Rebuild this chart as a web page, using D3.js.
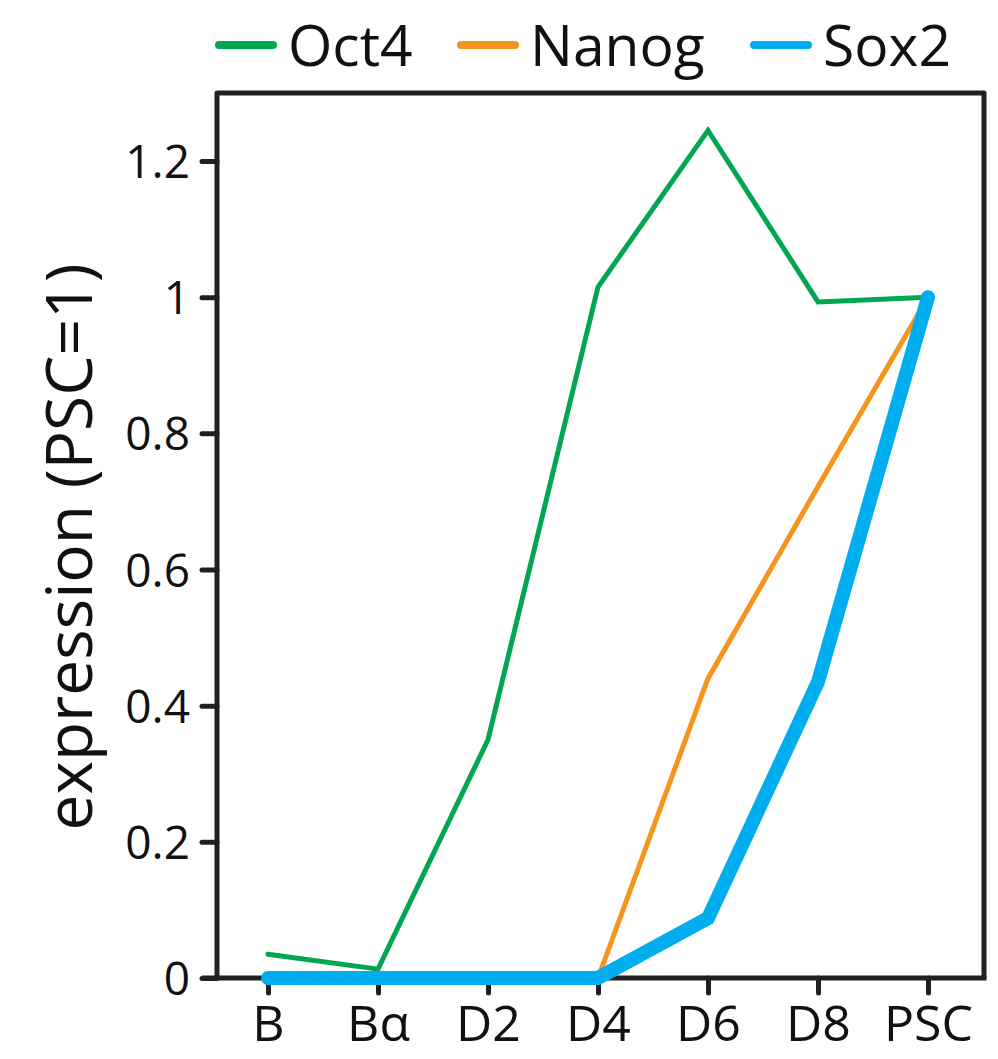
<!DOCTYPE html>
<html>
<head>
<meta charset="utf-8">
<script src="https://cdn.jsdelivr.net/npm/d3@7"></script>
<style>
  body { margin: 0; background: #fff; }
  svg { display: block; font-family: "Open Sans", sans-serif; }
</style>
</head>
<body>
<div id="chart"></div>
<script>
// data
const stages = ['B', 'Bα', 'D2', 'D4', 'D6', 'D8', 'PSC'];
const oct4  = [0.035, 0.013, 0.35, 1.015, 1.245, 0.993, 1.0];
const nanog = [0, 0, 0, 0, 0.44, 0.722, 1.0];
const sox2  = [0, 0, 0, 0, 0.088, 0.435, 1.0];
const yTicks = [0, 0.2, 0.4, 0.6, 0.8, 1, 1.2];

const series = [
  {name: 'Oct4',  values: oct4,  color: '#00a651', width: 5},
  {name: 'Nanog', values: nanog, color: '#f7941d', width: 5},
  {name: 'Sox2',  values: sox2,  color: '#00aeef', width: 14}
];

const width = 998, height = 1059;
const frame = {l: 217, r: 984, t: 93, b: 978};
const ink = '#231f20';

const svg = d3.select('#chart')
  .append('svg')
  .attr('width', width)
  .attr('height', height);

//scales
const scaleX = d3.scalePoint().domain(stages).range([268, 928]);
const scaleY = d3.scaleLinear().domain([0, 1.2]).range([frame.b, 161]);

//frame (top, left, right)
svg.append('path')
  .attr('d', `M${frame.l},${frame.b} V${frame.t} H${frame.r} V${frame.b}`)
  .attr('fill', 'none')
  .attr('stroke', ink)
  .attr('stroke-width', 5)
  .attr('stroke-linejoin', 'round');

//axes
const axisX = d3.axisBottom(scaleX).tickSize(15).tickPadding(10);
const axisY = d3.axisLeft(scaleY)
  .tickValues(yTicks)
  .tickSize(15)
  .tickPadding(12)
  .tickFormat(d => String(d));

const gx = svg.append('g')
  .attr('class', 'axis-x')
  .attr('transform', `translate(0,${frame.b})`)
  .call(axisX);
gx.select('.domain').remove();
gx.append('line')
  .attr('x1', 202).attr('x2', frame.r + 2.5)
  .attr('stroke', ink).attr('stroke-width', 5);

const gy = svg.append('g')
  .attr('class', 'axis-y')
  .attr('transform', `translate(${frame.l},0)`)
  .call(axisY);
gy.select('.domain').remove();

svg.selectAll('.tick line')
  .attr('stroke', ink)
  .attr('stroke-width', 5)
  .attr('stroke-linecap', 'round');
svg.selectAll('.tick text')
  .attr('fill', '#111')
  .style('font-family', '"Open Sans", sans-serif');
gx.selectAll('.tick text')
  .style('font-size', '50px')
  .attr('dy', '0.75em');
gy.selectAll('.tick text')
  .style('font-size', '46px')
  .attr('dy', '0.36em');

//y title
svg.append('text')
  .attr('transform', 'translate(92,547) rotate(-90)')
  .attr('text-anchor', 'middle')
  .style('font-size', '64px')
  .attr('fill', '#111')
  .text('expression (PSC=1)');

//lines
const line = d3.line()
  .x((d, i) => scaleX(stages[i]))
  .y(d => scaleY(d));

svg.selectAll('.series')
  .data(series)
  .enter()
  .append('path')
  .attr('class', 'series')
  .attr('d', d => line(d.values))
  .attr('fill', 'none')
  .attr('stroke', d => d.color)
  .attr('stroke-width', d => d.width)
  .attr('stroke-linecap', 'round')
  .attr('stroke-linejoin', 'miter');

//legend
const legendX = [215, 457, 750];
const legend = svg.selectAll('.legend')
  .data(series)
  .enter()
  .append('g')
  .attr('class', 'legend')
  .attr('transform', (d, i) => `translate(${legendX[i]},45)`);
legend.append('line')
  .attr('x1', 4).attr('x2', 58)
  .attr('stroke', d => d.color)
  .attr('stroke-width', 8)
  .attr('stroke-linecap', 'round');
legend.append('text')
  .attr('x', 73)
  .attr('dy', '0.36em')
  .style('font-size', '57px')
  .attr('fill', '#111')
  .text(d => d.name);
</script>
</body>
</html>
